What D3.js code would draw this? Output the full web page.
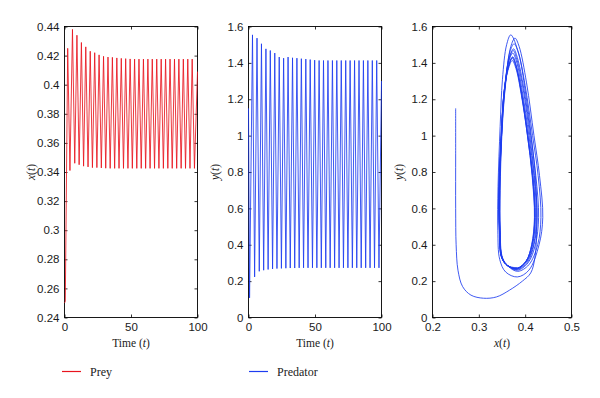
<!DOCTYPE html>
<html>
<head>
<meta charset="utf-8">
<script src="https://cdn.jsdelivr.net/npm/d3@7/dist/d3.min.js"></script>
<style>
  body { margin: 0; background: #fff; }
  svg { display: block; font-family: "Liberation Serif", "DejaVu Serif", serif; }
  .tick text { font-size: 11.5px; fill: #1a1a1a; }
  .tick line { stroke: #000; stroke-width: 0.8; }
  .domain { display: none; }
</style>
</head>
<body>
<div id="chart"></div>
<script>
// prey x(t): times and values at the turning points
var preyTime = [0, 0.6, 2.4, 4.1, 6.0, 7.7, 9.35, 11.0, 12.7, 14.35, 16.0, 17.7, 19.35, 21.0, 22.7, 24.35,
    26.0, 27.7, 29.35, 31.0, 32.7, 34.35, 36.0, 37.7, 39.35, 41.0, 42.7, 44.35, 46.0, 47.7, 49.35, 51.0,
    52.7, 54.35, 56.0, 57.7, 59.35, 61.0, 62.7, 64.35, 66.0, 67.7, 69.35, 71.0, 72.7, 74.35, 76.0, 77.7,
    79.35, 81.0, 82.7, 84.35, 86.0, 87.7, 89.35, 91.0, 92.7, 94.35, 96.0, 97.7, 100];
var preyValue = [0.250, 0.251, 0.425, 0.341, 0.438, 0.346, 0.434, 0.345, 0.429, 0.344, 0.426, 0.3435, 0.423, 0.343, 0.422, 0.343,
    0.4205, 0.3428, 0.4195, 0.3426, 0.419, 0.3425, 0.4188, 0.3425, 0.4184, 0.3425, 0.4181, 0.3425, 0.4179, 0.3425, 0.4177, 0.3425,
    0.4176, 0.3425, 0.4176, 0.3425, 0.4176, 0.3425, 0.4176, 0.3425, 0.4176, 0.3425, 0.4176, 0.3425, 0.4176, 0.3425, 0.4176, 0.3425,
    0.4176, 0.3425, 0.4176, 0.3425, 0.4176, 0.3425, 0.4176, 0.3425, 0.4176, 0.3425, 0.4176, 0.3425, 0.409];

// predator y(t): turning points
var predTime = [0, 0.8, 3.0, 4.6, 6.4, 8.1, 9.75, 11.4, 13.1, 14.75, 16.4, 18.1, 19.75, 21.4, 23.1, 24.75,
    26.4, 28.1, 29.75, 31.4, 33.1, 34.75, 36.4, 38.1, 39.75, 41.4, 43.1, 44.75, 46.4, 48.1, 49.75, 51.4,
    53.1, 54.75, 56.4, 58.1, 59.75, 61.4, 63.1, 64.75, 66.4, 68.1, 69.75, 71.4, 73.1, 74.75, 76.4, 78.1,
    79.75, 81.4, 83.1, 84.75, 86.4, 88.1, 89.75, 91.4, 93.1, 94.75, 96.4, 98.1, 100];
var predValue = [1.150, 0.108, 1.554, 0.223, 1.536, 0.254, 1.505, 0.260, 1.477, 0.264, 1.468, 0.267, 1.454, 0.269, 1.432, 0.270,
    1.426, 0.271, 1.432, 0.272, 1.428, 0.272, 1.426, 0.273, 1.423, 0.273, 1.421, 0.273, 1.418, 0.273, 1.415, 0.273,
    1.413, 0.273, 1.413, 0.273, 1.413, 0.273, 1.413, 0.273, 1.413, 0.273, 1.413, 0.273, 1.413, 0.273, 1.413, 0.273,
    1.413, 0.273, 1.413, 0.273, 1.413, 0.273, 1.413, 0.273, 1.413, 0.273, 1.413, 0.273, 1.30];

// phase plane: the opening stretch, then the loops
var phaseStart = [[0.250, 1.150], [0.250, 0.90], [0.250, 0.60], [0.251, 0.40], [0.255, 0.26], [0.265, 0.17],
    [0.283, 0.123], [0.310, 0.106], [0.338, 0.113], [0.366, 0.150], [0.394, 0.200], [0.412, 0.245]];
var phaseLoops = [
    [[0.421, 0.33], [0.425, 0.50], [0.4235, 0.72], [0.414, 0.98], [0.400, 1.25], [0.386, 1.45], [0.369, 1.554],
     [0.360, 1.50], [0.351, 1.31], [0.346, 1.05], [0.3415, 0.72], [0.341, 0.48], [0.345, 0.32], [0.358, 0.25], [0.383, 0.223]],
    [[0.408, 0.26], [0.430, 0.40], [0.438, 0.55], [0.431, 0.78], [0.419, 1.00], [0.403, 1.29], [0.387, 1.49], [0.378, 1.536],
     [0.369, 1.49], [0.358, 1.29], [0.350, 1.02], [0.346, 0.70], [0.346, 0.48], [0.351, 0.33], [0.364, 0.28], [0.384, 0.254]],
    [[0.408, 0.29], [0.427, 0.40], [0.434, 0.55], [0.428, 0.78], [0.416, 1.00], [0.400, 1.275], [0.385, 1.46], [0.376, 1.505],
     [0.367, 1.46], [0.357, 1.275], [0.349, 1.01], [0.345, 0.70], [0.3455, 0.48], [0.350, 0.33], [0.363, 0.285], [0.383, 0.260]],
    [[0.406, 0.30], [0.422, 0.40], [0.429, 0.55], [0.423, 0.78], [0.412, 1.00], [0.397, 1.26], [0.383, 1.43], [0.375, 1.477],
     [0.366, 1.43], [0.356, 1.26], [0.349, 1.00], [0.344, 0.70], [0.345, 0.48], [0.350, 0.33], [0.362, 0.285], [0.383, 0.264]],
    [[0.405, 0.305], [0.419, 0.40], [0.426, 0.55], [0.420, 0.78], [0.410, 1.00], [0.396, 1.25], [0.382, 1.42], [0.374, 1.468],
     [0.365, 1.42], [0.355, 1.25], [0.348, 1.00], [0.3435, 0.70], [0.3445, 0.48], [0.349, 0.33], [0.362, 0.285], [0.383, 0.267]],
    [[0.404, 0.31], [0.418, 0.40], [0.424, 0.55], [0.419, 0.78], [0.408, 1.00], [0.394, 1.24], [0.381, 1.41], [0.373, 1.454],
     [0.364, 1.40], [0.355, 1.24], [0.348, 1.00], [0.343, 0.70], [0.344, 0.48], [0.349, 0.33], [0.362, 0.285], [0.383, 0.269]],
    [[0.403, 0.31], [0.416, 0.40], [0.422, 0.55], [0.417, 0.78], [0.406, 1.00], [0.393, 1.23], [0.380, 1.39], [0.373, 1.432],
     [0.364, 1.38], [0.354, 1.23], [0.3485, 1.00], [0.3435, 0.70], [0.3445, 0.48], [0.3495, 0.33], [0.362, 0.285], [0.383, 0.270]],
    [[0.402, 0.31], [0.415, 0.40], [0.421, 0.55], [0.416, 0.78], [0.4055, 1.00], [0.3925, 1.225], [0.380, 1.38], [0.372, 1.426],
     [0.3635, 1.375], [0.354, 1.225], [0.349, 1.00], [0.344, 0.70], [0.345, 0.48], [0.3495, 0.33], [0.362, 0.285], [0.383, 0.271]],
    [[0.402, 0.31], [0.4145, 0.40], [0.4205, 0.55], [0.4155, 0.78], [0.405, 1.00], [0.392, 1.23], [0.380, 1.39], [0.373, 1.432],
     [0.364, 1.38], [0.354, 1.23], [0.349, 1.00], [0.3445, 0.70], [0.3455, 0.48], [0.350, 0.33], [0.362, 0.285], [0.383, 0.272]],
    [[0.402, 0.31], [0.414, 0.40], [0.420, 0.55], [0.415, 0.78], [0.405, 1.00], [0.392, 1.22], [0.380, 1.37], [0.372, 1.413],
     [0.363, 1.36], [0.354, 1.22], [0.349, 1.00], [0.3455, 0.70], [0.346, 0.48], [0.350, 0.33], [0.362, 0.285], [0.383, 0.273]]
];

// tick labels
var preyTicks = [0.24, 0.26, 0.28, 0.3, 0.32, 0.34, 0.36, 0.38, 0.4, 0.42, 0.44];
var predTicks = [0, 0.2, 0.4, 0.6, 0.8, 1, 1.2, 1.4, 1.6];
var timeTicks = [0, 50, 100];
var phaseXTicks = [0.2, 0.3, 0.4, 0.5];

var red = "#e8141e", blue = "#1e3cf0";

var svg = d3.select("#chart").append("svg")
    .attr("width", 600)
    .attr("height", 398);

var top0 = 26.5, bottom0 = 317.5;

// draws frame, inward ticks on all four sides and the labels
function panel(x0, x1, xDomain, yDomain, xTicks, yTicks, xTitle, yTitle, yTitleX) {
    var x = d3.scaleLinear().domain(xDomain).range([x0, x1]);
    var y = d3.scaleLinear().domain(yDomain).range([bottom0, top0]);
    var g = svg.append("g");
    var fmt = function(d) { return String(d); };

    g.append("g").attr("transform", "translate(0," + bottom0 + ")")
        .call(d3.axisBottom(x).tickValues(xTicks).tickFormat(fmt).tickSize(-3).tickPadding(5));
    g.append("g").attr("transform", "translate(0," + top0 + ")")
        .call(d3.axisTop(x).tickValues(xTicks).tickFormat("").tickSize(-3));
    g.append("g").attr("transform", "translate(" + x0 + ",0)")
        .call(d3.axisLeft(y).tickValues(yTicks).tickFormat(fmt).tickSize(-3).tickPadding(5));
    g.append("g").attr("transform", "translate(" + x1 + ",0)")
        .call(d3.axisRight(y).tickValues(yTicks).tickFormat("").tickSize(-3));

    g.append("rect")
        .attr("x", x0).attr("y", top0)
        .attr("width", x1 - x0).attr("height", bottom0 - top0)
        .style("fill", "none").style("stroke", "#000").style("stroke-width", 0.9);

    var xt = g.append("text")
        .attr("x", (x0 + x1) / 2).attr("y", 347)
        .attr("text-anchor", "middle")
        .style("font-size", "11.5px").style("fill", "#1a1a1a");
    xTitle(xt);

    var yt = g.append("text")
        .attr("transform", "translate(" + yTitleX + "," + ((top0 + bottom0) / 2) + ") rotate(-90)")
        .attr("text-anchor", "middle")
        .style("font-size", "11.5px").style("fill", "#1a1a1a");
    yTitle(yt);

    return {x: x, y: y, g: g};
}

function timeTitle(t) {
    t.append("tspan").text("Time (");
    t.append("tspan").style("font-style", "italic").text("t");
    t.append("tspan").text(")");
}
function fnTitle(name) {
    return function(t) {
        t.append("tspan").style("font-style", "italic").text(name);
        t.append("tspan").text("(");
        t.append("tspan").style("font-style", "italic").text("t");
        t.append("tspan").text(")");
    };
}

// left: prey
var p1 = panel(64.5, 197.5, [0, 100], [0.24, 0.44], timeTicks, preyTicks, timeTitle, fnTitle("x"), 35);
var preyData = preyTime.map(function(t, i) { return {t: t, v: preyValue[i]}; });
p1.g.append("path")
    .datum(preyData)
    .style("fill", "none").style("stroke", red).style("stroke-width", 0.85)
    .attr("d", d3.line().x(function(d) { return p1.x(d.t); }).y(function(d) { return p1.y(d.v); }));

// middle: predator
var p2 = panel(248.5, 381.5, [0, 100], [0, 1.6], timeTicks, predTicks, timeTitle, fnTitle("y"), 219);
var predData = predTime.map(function(t, i) { return {t: t, v: predValue[i]}; });
p2.g.append("path")
    .datum(predData)
    .style("fill", "none").style("stroke", blue).style("stroke-width", 0.85)
    .attr("d", d3.line().x(function(d) { return p2.x(d.t); }).y(function(d) { return p2.y(d.v); }));

// right: phase plane
var p3 = panel(432.5, 571.5, [0.2, 0.5], [0, 1.6], phaseXTicks, predTicks, fnTitle("x"), fnTitle("y"), 403);
var phaseData = phaseStart.concat.apply(phaseStart, phaseLoops);
p3.g.append("path")
    .datum(phaseData)
    .style("fill", "none").style("stroke", blue).style("stroke-width", 0.85)
    .attr("d", d3.line().curve(d3.curveCatmullRom.alpha(0.5))
        .x(function(d) { return p3.x(d[0]); }).y(function(d) { return p3.y(d[1]); }));

// legend
var legend = [{name: "Prey", color: red, x: 62}, {name: "Predator", color: blue, x: 249}];
legend.forEach(function(l) {
    svg.append("line")
        .attr("x1", l.x).attr("x2", l.x + 19).attr("y1", 371.5).attr("y2", 371.5)
        .attr("stroke", l.color).attr("stroke-width", 1.2);
    svg.append("text")
        .attr("x", l.x + 28).attr("y", 375.5)
        .style("font-size", "12px").style("fill", "#1a1a1a")
        .text(l.name);
});
</script>
</body>
</html>
